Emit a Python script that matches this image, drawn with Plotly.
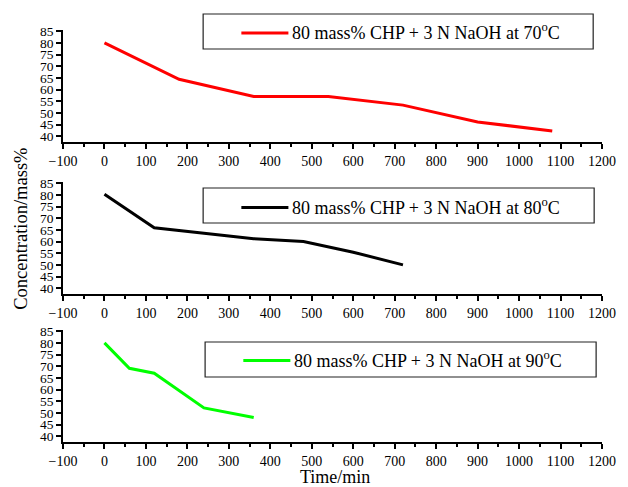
import plotly.graph_objects as go
from plotly.subplots import make_subplots

# Data
t70 = [0, 180, 360, 540, 720, 900, 1080]
c70 = [80, 64.4, 57.0, 57.0, 53.3, 46.1, 42.2]
t80 = [0, 120, 240, 360, 480, 600, 720]
c80 = [80.2, 65.9, 63.5, 61.2, 60.0, 55.4, 50.0]
t90 = [0, 60, 120, 240, 360]
c90 = [80.0, 69.1, 67.0, 52.1, 48.0]

labels = ["80 mass% CHP + 3 N NaOH at 70<sup>o</sup>C",
          "80 mass% CHP + 3 N NaOH at 80<sup>o</sup>C",
          "80 mass% CHP + 3 N NaOH at 90<sup>o</sup>C"]
colors = ["#ff0000", "#000000", "#00ff00"]
series = [(t70, c70), (t80, c80), (t90, c90)]

W, H = 628, 487
L, R, T, B = 63, 15, 30, 45
PW, PH = W - L - R, H - T - B

def px_x(p):
    return (p - L) / PW

def px_y(p):
    return (H - B - p) / PH

fig = make_subplots(rows=3, cols=1)
FONT = "Liberation Serif"

# panel pixel extents (top, bottom)
panels = [(30, 142), (182, 294), (330, 442)]
boxes = [(206, 604, 14, 49, 33), (206, 605, 188, 223, 207.5), (208, 607, 342, 377, 360.5)]

for i, ((tx, cy), col, lab) in enumerate(zip(series, colors, labels)):
    r = i + 1
    fig.add_trace(go.Scatter(x=tx, y=cy, mode="lines", name=lab,
                             line=dict(color=col, width=3), showlegend=False),
                  row=r, col=1)
    top, bot = panels[i]
    yname = "yaxis" if r == 1 else f"yaxis{r}"
    xname = "xaxis" if r == 1 else f"xaxis{r}"
    fig.layout[yname].update(domain=[px_y(bot), px_y(top)])
    fig.layout[xname].update(
        range=[-100, 1200], dtick=100, tick0=0, showgrid=False, zeroline=False,
        showline=True, linecolor="black", linewidth=1.5,
        ticks="outside", ticklen=5, tickwidth=1.5, tickcolor="black",
        minor=dict(ticks="outside", ticklen=3, tickwidth=1.5, tickcolor="black", dtick=50, tick0=0, showgrid=False),
        tickfont=dict(family=FONT, size=14, color="black"))
    fig.layout[yname].update(
        range=[37.5, 85.5], tickvals=list(range(40, 90, 5)), showgrid=False, zeroline=False,
        showline=True, linecolor="black", linewidth=1.5,
        ticks="outside", ticklen=5, tickwidth=1.5, tickcolor="black",
        tickfont=dict(family=FONT, size=13.5, color="black"))

    x0, x1, y0, y1, ly = boxes[i]
    fig.add_shape(type="rect", xref="paper", yref="paper",
                  x0=px_x(x0), x1=px_x(x1), y0=px_y(y1), y1=px_y(y0),
                  line=dict(color="#222222", width=1.2), fillcolor="rgba(0,0,0,0)")
    fig.add_shape(type="line", xref="paper", yref="paper",
                  x0=px_x(x0 + 39), x1=px_x(x0 + 87), y0=px_y(ly), y1=px_y(ly),
                  line=dict(color=col, width=3))
    fig.add_annotation(xref="paper", yref="paper", x=px_x(x0 + 89), y=px_y(ly - 1.5),
                       xanchor="left", yanchor="middle", showarrow=False, text=lab,
                       font=dict(family=FONT, size=18, color="black"))

fig.add_annotation(xref="paper", yref="paper", x=px_x(341), y=px_y(477),
                   xanchor="center", yanchor="middle", showarrow=False, text="Time/min",
                   font=dict(family=FONT, size=18, color="black"))
fig.add_annotation(xref="paper", yref="paper", x=px_x(20), y=px_y(229),
                   xanchor="center", yanchor="middle", showarrow=False, textangle=-90,
                   text="Concentration/mass%",
                   font=dict(family=FONT, size=18.5, color="black"))

fig.update_layout(width=W, height=H, margin=dict(l=L, r=R, t=T, b=B),
                  paper_bgcolor="white", plot_bgcolor="white",
                  font=dict(family=FONT, color="black"))

fig.write_html("out.html", config={"displayModeBar": False},
               post_script="document.body.style.margin='0';document.body.style.overflow='hidden';")
